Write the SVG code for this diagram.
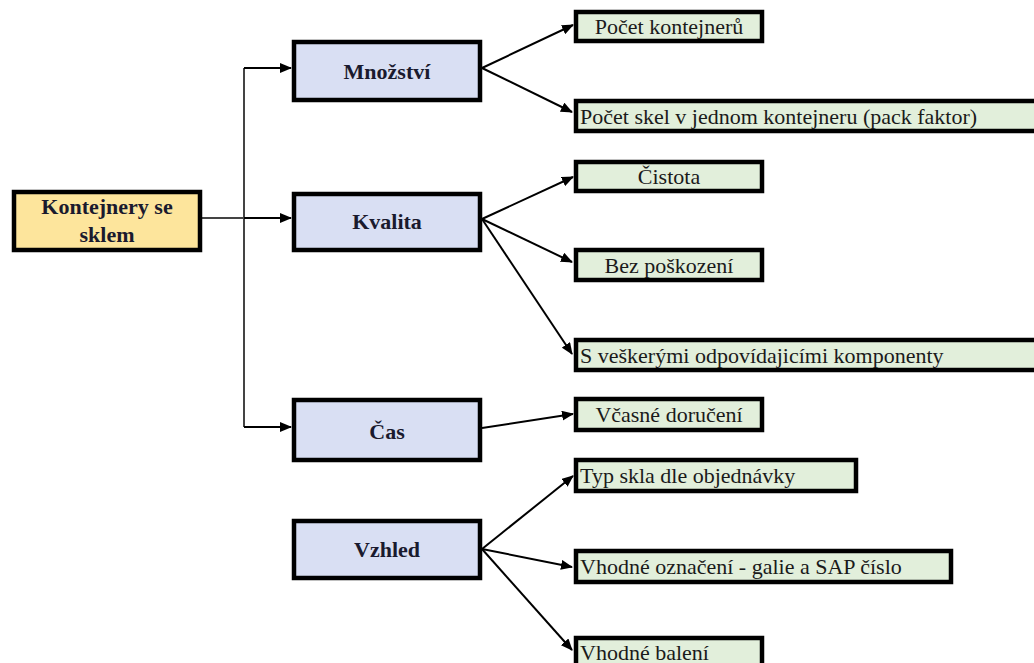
<svg xmlns="http://www.w3.org/2000/svg" width="1034" height="663" viewBox="0 0 1034 663">
  <defs>
    <marker id="arrow" viewBox="0 0 12 10" refX="11" refY="5" markerWidth="12" markerHeight="10" markerUnits="userSpaceOnUse" orient="auto">
      <path d="M0,0 L12,5 L0,10 Z" fill="#000"/>
    </marker>
    <style>
      .box { stroke: #000; stroke-width: 4.5; }
      .root { fill: #fde59c; }
      .cat { fill: #d9dff3; }
      .leaf { fill: #e2efdb; }
      .bold { font-family: "Liberation Serif", "Times New Roman", serif; font-weight: bold; font-size: 22px; fill: #1a1a2e; text-anchor: middle; }
      .txt { font-family: "Liberation Serif", "Times New Roman", serif; font-size: 22px; fill: #1a1a1a; }
      .mid { text-anchor: middle; }
      .trunk { stroke: #444; stroke-width: 2; fill: none; }
      .edge { stroke: #000; stroke-width: 2; fill: none; marker-end: url(#arrow); }
    </style>
  </defs>
  <rect width="1034" height="663" fill="#fff"/>

  <!-- connectors -->
  <g id="connectors">
    <line class="trunk" x1="202" y1="218" x2="244" y2="218"/>
    <line class="trunk" x1="244" y1="68" x2="244" y2="427"/>
    <line class="edge" x1="244" y1="68" x2="291" y2="68"/>
    <line class="edge" x1="244" y1="218" x2="291" y2="218"/>
    <line class="edge" x1="244" y1="427" x2="291" y2="427"/>

    <line class="edge" x1="482" y1="68" x2="573" y2="25"/>
    <line class="edge" x1="482" y1="68" x2="572" y2="112"/>

    <line class="edge" x1="482" y1="219" x2="573" y2="177"/>
    <line class="edge" x1="482" y1="219" x2="572" y2="262"/>
    <line class="edge" x1="482" y1="219" x2="572" y2="354"/>

    <line class="edge" x1="482" y1="428" x2="573" y2="414"/>

    <line class="edge" x1="482" y1="549" x2="573" y2="476"/>
    <line class="edge" x1="482" y1="549" x2="572" y2="567"/>
    <line class="edge" x1="482" y1="549" x2="572" y2="650"/>
  </g>

  <!-- root -->
  <g id="kontejnery">
    <rect class="box root" x="14" y="192" width="186" height="58"/>
    <text class="bold" x="107" y="214">Kontejnery se</text>
    <text class="bold" x="107" y="242">sklem</text>
  </g>

  <!-- categories -->
  <g id="mnozstvi">
    <rect class="box cat" x="294" y="42" width="186" height="58"/>
    <text class="bold" x="387" y="79">Množství</text>
  </g>
  <g id="kvalita">
    <rect class="box cat" x="294" y="194" width="186" height="56"/>
    <text class="bold" x="387" y="229">Kvalita</text>
  </g>
  <g id="cas">
    <rect class="box cat" x="294" y="400" width="186" height="60"/>
    <text class="bold" x="387" y="439">Čas</text>
  </g>
  <g id="vzhled">
    <rect class="box cat" x="294" y="521" width="186" height="57"/>
    <text class="bold" x="387" y="557">Vzhled</text>
  </g>

  <!-- leaves -->
  <g id="pocet-kontejneru">
    <rect class="box leaf" x="576" y="12" width="186" height="29"/>
    <text class="txt mid" x="669" y="34">Počet kontejnerů</text>
  </g>
  <g id="pocet-skel">
    <rect class="box leaf" x="576" y="101" width="470" height="30"/>
    <text class="txt" x="580" y="124">Počet skel v jednom kontejneru (pack faktor)</text>
  </g>
  <g id="cistota">
    <rect class="box leaf" x="576" y="162" width="186" height="29"/>
    <text class="txt mid" x="669" y="184">Čistota</text>
  </g>
  <g id="bez-poskozeni">
    <rect class="box leaf" x="576" y="250" width="186" height="30"/>
    <text class="txt mid" x="669" y="273">Bez poškození</text>
  </g>
  <g id="s-veskerymi">
    <rect class="box leaf" x="576" y="340" width="470" height="30"/>
    <text class="txt" x="580" y="363">S veškerými odpovídajicími komponenty</text>
  </g>
  <g id="vcasne-doruceni">
    <rect class="box leaf" x="576" y="399" width="186" height="31"/>
    <text class="txt mid" x="669" y="422">Včasné doručení</text>
  </g>
  <g id="typ-skla">
    <rect class="box leaf" x="576" y="460" width="280" height="31"/>
    <text class="txt" x="580" y="483">Typ skla dle objednávky</text>
  </g>
  <g id="vhodne-oznaceni">
    <rect class="box leaf" x="576" y="551" width="375" height="31"/>
    <text class="txt" x="580" y="574">Vhodné označení - galie a SAP číslo</text>
  </g>
  <g id="vhodne-baleni">
    <rect class="box leaf" x="576" y="638" width="186" height="40"/>
    <text class="txt" x="580" y="660">Vhodné balení</text>
  </g>
</svg>
